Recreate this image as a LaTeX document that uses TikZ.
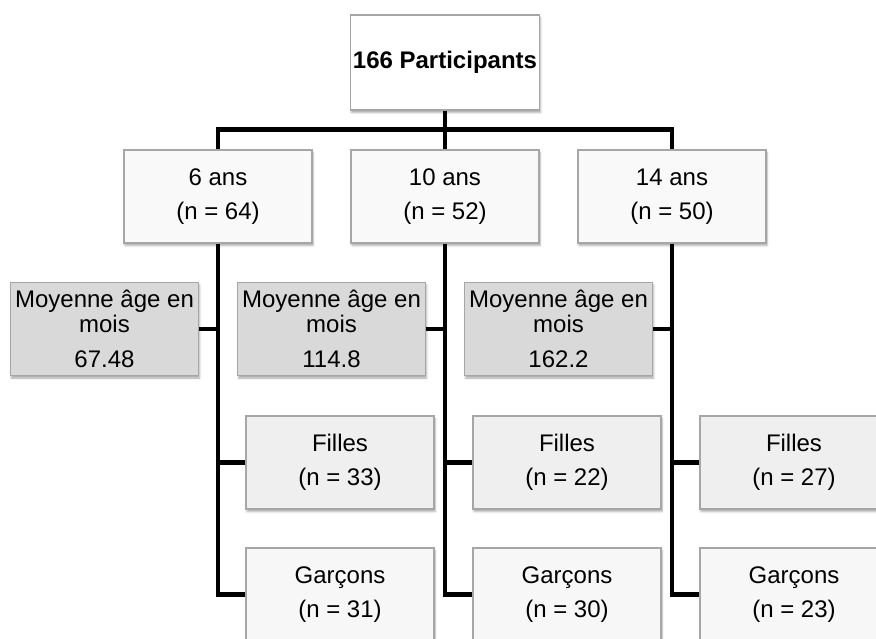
\documentclass[tikz,border=0pt]{standalone}
\usepackage{fontspec}
\setmainfont{Liberation Sans}
\usetikzlibrary{positioning,shadows.blur}
\definecolor{boxline}{RGB}{166,166,166}
\definecolor{agefill}{RGB}{249,249,249}
\definecolor{meanfill}{RGB}{217,217,217}
\definecolor{girlfill}{RGB}{239,239,239}
\definecolor{boyfill}{RGB}{247,247,247}

\begin{document}
\begin{tikzpicture}[x=1pt, y=-1pt, auto]
% Define styles
\tikzstyle{box} = [rectangle, draw=boxline, line width=1.2pt, minimum width=188pt, minimum height=93pt, inner sep=0pt, align=center, font=\fontsize{24}{34}\selectfont, blur shadow={shadow xshift=1pt, shadow yshift=-2.5pt, shadow blur radius=2pt, shadow opacity=35}]
\tikzstyle{root} = [box, fill=white, minimum width=189pt, minimum height=95pt, font=\fontsize{24}{28}\selectfont\bfseries]
\tikzstyle{age} = [box, fill=agefill]
\tikzstyle{mean} = [box, fill=meanfill, font=\fontsize{24}{25}\selectfont]
\tikzstyle{girls} = [box, fill=girlfill]
\tikzstyle{boys} = [box, fill=boyfill]
\tikzstyle{link} = [line width=4.5pt, black]

\clip (0,0) rectangle (876,638);

% Place nodes
\node [root] (total) at (445,62.5) {166 Participants};
\node [age, below of=total, node distance=134pt] (ten) {10 ans\\(n = 52)};
\node [age, left of=ten, node distance=227pt] (six) {6 ans\\(n = 64)};
\node [age, right of=ten, node distance=227pt] (fourteen) {14 ans\\(n = 50)};

\node [mean, below of=six, node distance=132.5pt, xshift=-113.5pt] (mean6) {Moyenne âge en\\mois\\[10pt]67.48};
\node [mean, below of=ten, node distance=132.5pt, xshift=-113.5pt] (mean10) {Moyenne âge en\\mois\\[10pt]114.8};
\node [mean, below of=fourteen, node distance=132.5pt, xshift=-113.5pt] (mean14) {Moyenne âge en\\mois\\[10pt]162.2};

\node [girls, below of=six, node distance=266pt, xshift=122pt] (girls6) {Filles\\(n = 33)};
\node [girls, below of=ten, node distance=266pt, xshift=122pt] (girls10) {Filles\\(n = 22)};
\node [girls, below of=fourteen, node distance=266pt, xshift=122pt] (girls14) {Filles\\(n = 27)};

\node [boys, below of=girls6, node distance=132pt] (boys6) {Garçons\\(n = 31)};
\node [boys, below of=girls10, node distance=132pt] (boys10) {Garçons\\(n = 30)};
\node [boys, below of=girls14, node distance=132pt] (boys14) {Garçons\\(n = 23)};

% Draw connectors
\draw [link] (total) -- (ten);
\draw [link] (six.north) -- ++(0,-20) -| (fourteen.north);
\draw [link] (six.south) |- (boys6.west);
\draw [link] (mean6.east) -- (mean6.east -| six.south);
\draw [link] (girls6.west) -- (girls6.west -| six.south);
\draw [link] (ten.south) |- (boys10.west);
\draw [link] (mean10.east) -- (mean10.east -| ten.south);
\draw [link] (girls10.west) -- (girls10.west -| ten.south);
\draw [link] (fourteen.south) |- (boys14.west);
\draw [link] (mean14.east) -- (mean14.east -| fourteen.south);
\draw [link] (girls14.west) -- (girls14.west -| fourteen.south);
\end{tikzpicture}
\end{document}
